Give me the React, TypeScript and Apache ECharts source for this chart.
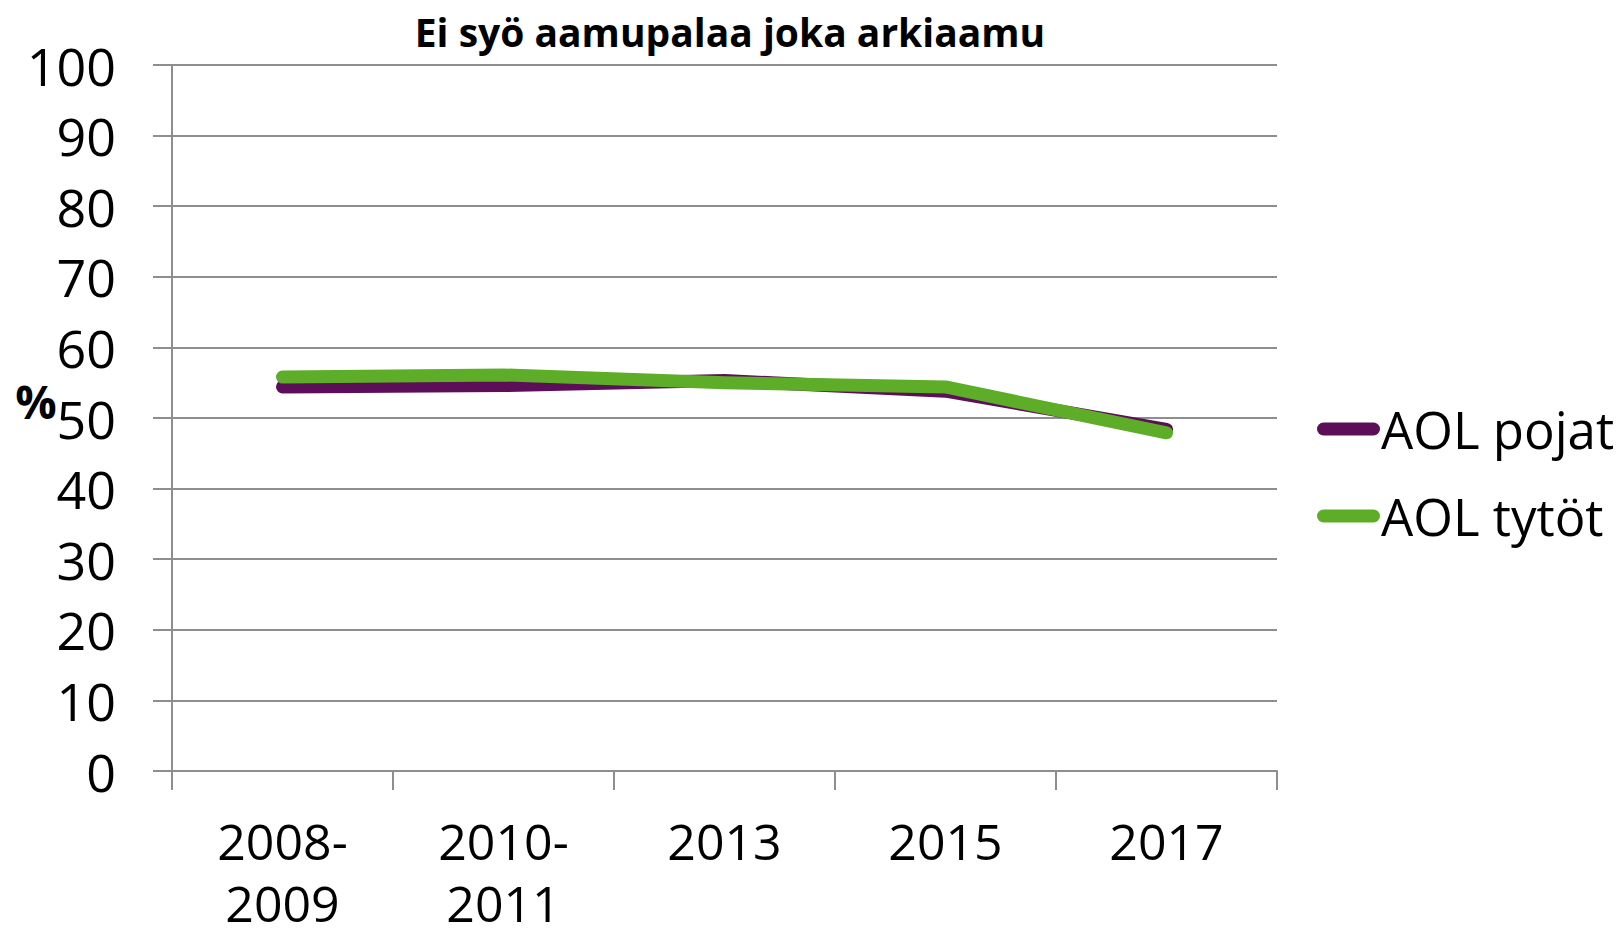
import React, { useEffect, useRef } from "react";
import * as echarts from "echarts";

const titleText = "Ei syö aamupalaa joka arkiaamu";
const categories = ["2008-\n2009", "2010-\n2011", "2013", "2015", "2017"];
const boysName = "AOL pojat";
const girlsName = "AOL tytöt";
const boysValues = [54.4, 54.6, 55.3, 53.8, 48.4];
const girlsValues = [55.8, 56.1, 55.0, 54.4, 47.9];
const yAxisMin = 0;
const yAxisMax = 100;
const yAxisStep = 10;
const unitLabel = "%";

const FONT = "'Open Sans', 'Noto Sans', sans-serif";
const PURPLE = "#5c0f58";
const GREEN = "#5dad29";
const GRIDC = "#8e8e8e";
const CAPSULE = "path://M6.5,0 H56.5 A6.5,6.5 0 0 1 56.5,13 H6.5 A6.5,6.5 0 0 1 6.5,0 Z";

export default function App() {
  const ref = useRef<HTMLDivElement>(null);
  useEffect(() => {
    if (!ref.current) return;
    const chart = echarts.init(ref.current, undefined, { renderer: "svg" });
    chart.setOption({
      animation: false,
      backgroundColor: "#ffffff",
      textStyle: { fontFamily: FONT },
      grid: {
        left: 172,
        right: 343,
        top: 65,
        bottom: 169,
        containLabel: false,
        outerBoundsMode: "none",
      },
      graphic: [
        {
          type: "text",
          x: 730,
          y: 31,
          style: {
            text: titleText,
            font: `bold 39px ${FONT}`,
            fill: "#000",
            textAlign: "center",
            textVerticalAlign: "middle",
          },
        },
        {
          type: "text",
          x: 36,
          y: 401,
          style: {
            text: unitLabel,
            font: `bold 46px ${FONT}`,
            fill: "#000",
            textAlign: "center",
            textVerticalAlign: "middle",
          },
        },
      ],
      legend: {
        orient: "vertical",
        left: 1312,
        top: 394,
        itemWidth: 63,
        itemHeight: 13,
        itemGap: 27,
        icon: CAPSULE,
        textStyle: { fontSize: 51, color: "#000", fontFamily: FONT, lineHeight: 60, padding: [0, 0, 0, -4] },
        data: [boysName, girlsName],
      },
      xAxis: {
        type: "category",
        data: categories,
        boundaryGap: true,
        axisLine: { show: true, lineStyle: { color: GRIDC, width: 2 } },
        axisTick: { show: true, length: 19, lineStyle: { color: GRIDC, width: 2 } },
        axisLabel: {
          color: "#000",
          fontSize: 50,
          lineHeight: 62,
          margin: 39,
          fontFamily: FONT,
          interval: 0,
        },
        splitLine: { show: false },
      },
      yAxis: {
        type: "value",
        min: yAxisMin,
        max: yAxisMax,
        interval: yAxisStep,
        axisLine: { show: true, lineStyle: { color: GRIDC, width: 2 } },
        axisTick: { show: true, length: 19, lineStyle: { color: GRIDC, width: 2 } },
        axisLabel: { color: "#000", fontSize: 52, margin: 56, fontFamily: FONT },
        splitLine: { show: true, lineStyle: { color: GRIDC, width: 2 } },
      },
      series: [
        {
          name: boysName,
          type: "line",
          data: boysValues,
          symbol: "none",
          color: PURPLE,
          lineStyle: { color: PURPLE, width: 13, cap: "round", join: "round" },
          z: 2,
        },
        {
          name: girlsName,
          type: "line",
          data: girlsValues,
          symbol: "none",
          color: GREEN,
          lineStyle: { color: GREEN, width: 13, cap: "round", join: "round" },
          z: 3,
        },
      ],
    });
    return () => chart.dispose();
  }, []);
  return (
    <div
      ref={ref}
      style={{ position: "fixed", left: 0, top: 0, width: 1620, height: 940, background: "#fff" }}
    />
  );
}
